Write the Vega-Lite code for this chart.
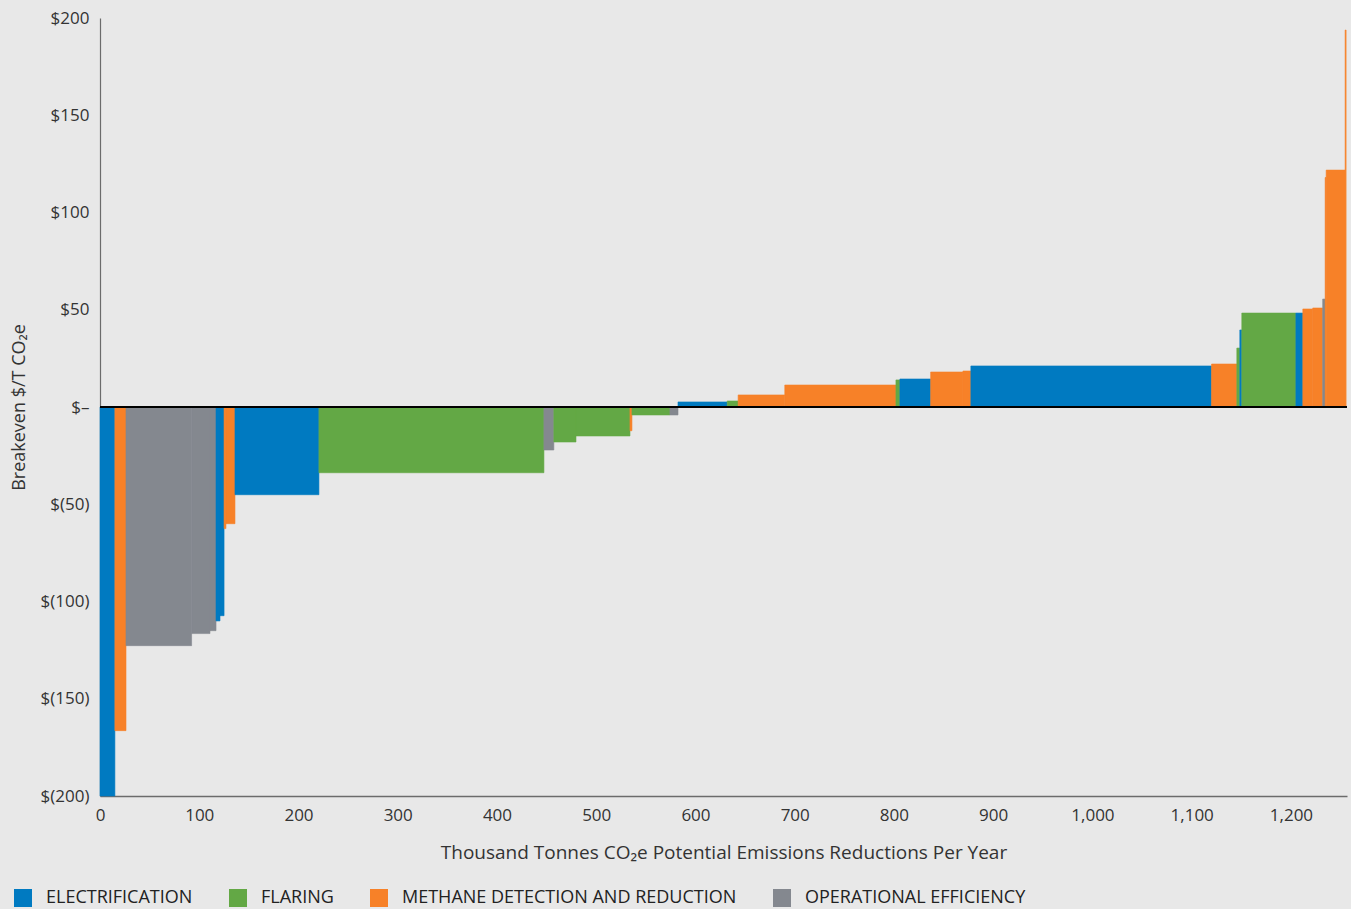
{
  "$schema": "https://vega.github.io/schema/vega-lite/v6.json",
  "width": 1247,
  "height": 778,
  "autosize": "none",
  "padding": {"left": 100, "top": 18, "right": 4, "bottom": 113},
  "background": "#e8e8e8",
  "config": {"view": {"stroke": null}, "font": "Open Sans"},
  "data": {"values": [
    {"category": "ELECTRIFICATION", "x0": 0, "x1": 15, "value": -200},
    {"category": "METHANE DETECTION AND REDUCTION", "x0": 15, "x1": 26.2, "value": -166.4},
    {"category": "OPERATIONAL EFFICIENCY", "x0": 26.2, "x1": 92.3, "value": -122.7},
    {"category": "OPERATIONAL EFFICIENCY", "x0": 92.3, "x1": 110.8, "value": -116.5},
    {"category": "OPERATIONAL EFFICIENCY", "x0": 110.8, "x1": 116.9, "value": -115},
    {"category": "ELECTRIFICATION", "x0": 116.9, "x1": 120.9, "value": -110},
    {"category": "ELECTRIFICATION", "x0": 120.9, "x1": 125, "value": -107.3},
    {"category": "METHANE DETECTION AND REDUCTION", "x0": 125, "x1": 126.9, "value": -62.5},
    {"category": "METHANE DETECTION AND REDUCTION", "x0": 126.9, "x1": 136, "value": -60},
    {"category": "ELECTRIFICATION", "x0": 136, "x1": 220.6, "value": -45.1},
    {"category": "FLARING", "x0": 220.6, "x1": 447.3, "value": -33.8},
    {"category": "OPERATIONAL EFFICIENCY", "x0": 447.3, "x1": 457.3, "value": -22.1},
    {"category": "FLARING", "x0": 457.3, "x1": 479.6, "value": -18},
    {"category": "FLARING", "x0": 479.6, "x1": 534, "value": -14.9},
    {"category": "METHANE DETECTION AND REDUCTION", "x0": 534, "x1": 536, "value": -12.2},
    {"category": "FLARING", "x0": 536, "x1": 574.3, "value": -4.1},
    {"category": "OPERATIONAL EFFICIENCY", "x0": 574.3, "x1": 582.4, "value": -4.1},
    {"category": "ELECTRIFICATION", "x0": 582.4, "x1": 632, "value": 2.6},
    {"category": "FLARING", "x0": 632, "x1": 643, "value": 3.1},
    {"category": "METHANE DETECTION AND REDUCTION", "x0": 643, "x1": 690, "value": 6.2},
    {"category": "METHANE DETECTION AND REDUCTION", "x0": 690, "x1": 802, "value": 11.3},
    {"category": "FLARING", "x0": 802, "x1": 806, "value": 13.9},
    {"category": "ELECTRIFICATION", "x0": 806, "x1": 837, "value": 14.4},
    {"category": "METHANE DETECTION AND REDUCTION", "x0": 837, "x1": 869.5, "value": 18},
    {"category": "METHANE DETECTION AND REDUCTION", "x0": 869.5, "x1": 877.5, "value": 18.5},
    {"category": "ELECTRIFICATION", "x0": 877.5, "x1": 1120, "value": 21.1},
    {"category": "METHANE DETECTION AND REDUCTION", "x0": 1120, "x1": 1145.5, "value": 22.1},
    {"category": "FLARING", "x0": 1145.5, "x1": 1148.5, "value": 30.3},
    {"category": "ELECTRIFICATION", "x0": 1148.5, "x1": 1150.5, "value": 39.6},
    {"category": "FLARING", "x0": 1150.5, "x1": 1205, "value": 48.3},
    {"category": "ELECTRIFICATION", "x0": 1205, "x1": 1212, "value": 48.3},
    {"category": "METHANE DETECTION AND REDUCTION", "x0": 1212, "x1": 1222, "value": 50.4},
    {"category": "METHANE DETECTION AND REDUCTION", "x0": 1222, "x1": 1232, "value": 50.9},
    {"category": "OPERATIONAL EFFICIENCY", "x0": 1232, "x1": 1234.5, "value": 55.5},
    {"category": "METHANE DETECTION AND REDUCTION", "x0": 1234.5, "x1": 1235.5, "value": 118},
    {"category": "METHANE DETECTION AND REDUCTION", "x0": 1235.5, "x1": 1254.6, "value": 121.8},
    {"category": "METHANE DETECTION AND REDUCTION", "x0": 1254.6, "x1": 1255.6, "value": 193.8}
  ]},
  "layer": [
    {
      "mark": {"type": "rect", "strokeWidth": 0.6},
      "encoding": {
        "x": {
          "field": "x0", "type": "quantitative",
          "scale": {"domain": [0, 1256.5], "nice": false, "zero": false},
          "axis": {
            "title": "Thousand Tonnes CO₂e Potential Emissions Reductions Per Year",
            "values": [0, 100, 200, 300, 400, 500, 600, 700, 800, 900, 1000, 1100, 1200],
            "format": ",d",
            "ticks": false, "grid": false,
            "domainColor": "#6b6b6b", "domainWidth": 1.5,
            "labelFontSize": 17, "labelColor": "#333333", "labelPadding": 11,
            "labelFlush": false,
            "titleFontSize": 19, "titleFontWeight": "normal", "titleColor": "#333333", "titlePadding": 20
          }
        },
        "x2": {"field": "x1"},
        "y": {
          "field": "value", "type": "quantitative",
          "scale": {"domain": [-200, 200], "nice": false},
          "axis": {
            "title": "Breakeven $/T CO₂e",
            "values": [-200, -150, -100, -50, 0, 50, 100, 150, 200],
            "labelExpr": "datum.value == 0 ? '$–' : (datum.value < 0 ? '$(' + abs(datum.value) + ')' : '$' + datum.value)",
            "ticks": false, "grid": false,
            "domainColor": "#6b6b6b", "domainWidth": 1.2,
            "labelFontSize": 17, "labelColor": "#333333", "labelPadding": 11,
            "labelFlush": false,
            "titleFontSize": 18, "titleFontWeight": "normal", "titleColor": "#333333", "titlePadding": 12
          }
        },
        "y2": {"datum": 0},
        "color": {
          "field": "category", "type": "nominal",
          "scale": {
            "domain": ["ELECTRIFICATION", "FLARING", "METHANE DETECTION AND REDUCTION", "OPERATIONAL EFFICIENCY"],
            "range": ["#007ac1", "#63a845", "#f78128", "#84888f"]
          },
          "legend": {
            "orient": "none", "legendX": -86, "legendY": 871,
            "direction": "horizontal", "title": null,
            "symbolType": "square", "symbolSize": 324, "symbolStrokeWidth": 0, "symbolOpacity": 1,
            "labelFontSize": 18, "labelColor": "#222222", "labelOffset": 14,
            "columnPadding": 36, "labelLimit": 600
          }
        },
        "stroke": {
          "field": "category", "type": "nominal",
          "scale": {
            "domain": ["ELECTRIFICATION", "FLARING", "METHANE DETECTION AND REDUCTION", "OPERATIONAL EFFICIENCY"],
            "range": ["#007ac1", "#63a845", "#f78128", "#84888f"]
          },
          "legend": null
        }
      }
    },
    {
      "mark": {"type": "rule", "color": "#000000", "strokeWidth": 1.5},
      "encoding": {"y": {"datum": 0}}
    }
  ]
}
